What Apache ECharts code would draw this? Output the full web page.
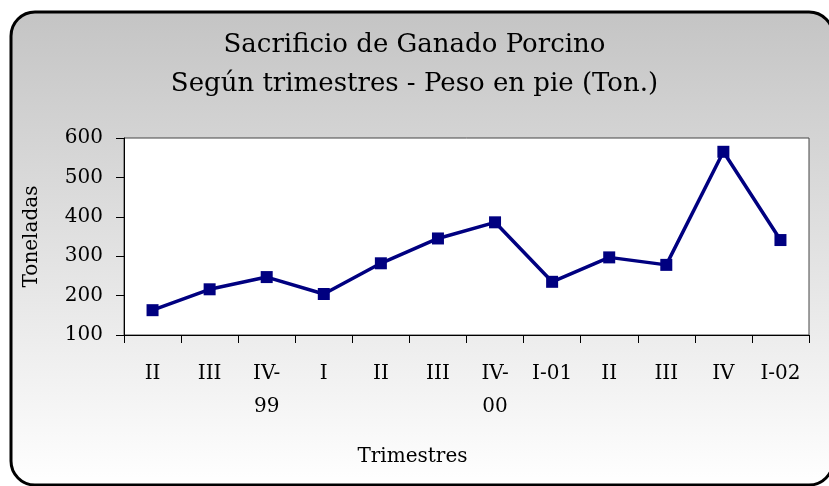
<!DOCTYPE html>
<html>
<head>
<meta charset="utf-8">
<script src="https://cdn.jsdelivr.net/npm/echarts@6/dist/echarts.min.js"></script>
<style>
  html, body { margin: 0; padding: 0; background: #fff; }
  #chart { width: 829px; height: 486px; }
</style>
</head>
<body>
<div id="chart"></div>
<script>
// trimestres (etiquetas del eje x)
var categories = ['II', 'III', 'IV-\n99', 'I', 'II', 'III', 'IV-\n00', 'I-01', 'II', 'III', 'IV', 'I-02'];
// toneladas, peso en pie
var toneladas = [163, 216, 247, 204, 282, 345, 386, 235, 297, 278, 565, 341];
var yTicks = [100, 200, 300, 400, 500, 600];

var serif = 'DejaVu Serif';
var chart = echarts.init(document.getElementById('chart'));

// fondo con degradado y borde redondeado
var frame = {
  type: 'rect',
  z: -10,
  shape: { x: 11, y: 12, width: 822, height: 473, r: 24 },
  style: {
    fill: {
      type: 'linear', x: 0, y: 0, x2: 0, y2: 1,
      colorStops: [
        { offset: 0, color: '#c4c4c4' },
        { offset: 1, color: '#ffffff' }
      ]
    },
    stroke: '#000',
    lineWidth: 3
  }
};

var labelStyle = { fontFamily: serif, fontSize: 20, fontWeight: 'normal', color: '#000' };

var option = {
  animation: false,
  backgroundColor: '#fff',
  graphic: [frame],
  title: {
    text: 'Sacrificio de Ganado Porcino\nSegún trimestres - Peso en pie (Ton.)',
    left: 'center',
    top: 21,
    textStyle: {
      fontFamily: serif,
      fontSize: 26,
      fontWeight: 'normal',
      color: '#000',
      lineHeight: 39
    }
  },
  grid: { left: 124, right: 20, top: 138, bottom: 151 },
  xAxis: {
    type: 'category',
    data: categories,
    boundaryGap: true,
    name: 'Trimestres',
    nameLocation: 'middle',
    nameGap: 112,
    nameTextStyle: Object.assign({ padding: [0, 108, 0, 0] }, labelStyle),
    axisLine: { lineStyle: { color: '#000', width: 1 } },
    axisTick: { show: true, length: 8, lineStyle: { color: '#000' } },
    axisLabel: Object.assign({ margin: 22, lineHeight: 33, interval: 0 }, labelStyle),
    splitLine: { show: false }
  },
  yAxis: {
    type: 'value',
    min: 100, max: 600, interval: 100,
    name: 'Toneladas',
    nameLocation: 'middle',
    nameGap: 82,
    nameRotate: 90,
    nameTextStyle: labelStyle,
    axisLine: { show: true, lineStyle: { color: '#000', width: 1 } },
    axisTick: { show: true, length: 8, lineStyle: { color: '#000' } },
    axisLabel: Object.assign({
      margin: 21,
      formatter: function (v) { return yTicks.indexOf(v) >= 0 ? String(v) : ''; }
    }, labelStyle),
    splitLine: { show: false }
  },
  series: [
    {
      type: 'line',
      data: toneladas,
      symbol: 'rect',
      symbolSize: 12,
      lineStyle: { color: '#000080', width: 3.5 },
      itemStyle: { color: '#000080' },
      z: 3
    }
  ]
};

chart.setOption(option);

// área de trazado blanca con borde gris
var rect = chart.getModel().getComponent('grid').coordinateSystem.getRect();
chart.setOption({
  graphic: [frame, {
    type: 'rect',
    z: -5,
    shape: { x: rect.x, y: rect.y, width: rect.width, height: rect.height },
    style: { fill: '#fff', stroke: '#444', lineWidth: 1 }
  }]
});
</script>
</body>
</html>
